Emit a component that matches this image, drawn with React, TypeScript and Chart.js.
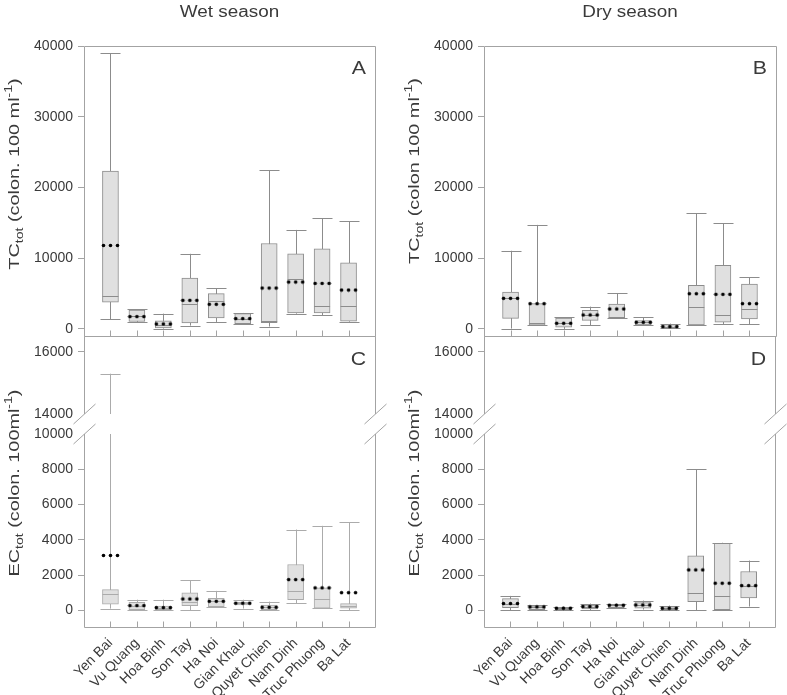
import React, { useEffect, useRef } from 'react';
import { Chart, registerables, LinearScale } from 'chart.js';

Chart.register(...registerables);

class BrokenLinearScale extends LinearScale {
  static id = 'brokenLinear';
  static defaults = LinearScale.defaults;
  getPixelForValue(value: number) {
    const brk = (this.options as any).brk;
    if (!brk) return super.getPixelForValue(value);
    const { lowMax, highMin, lowFrac, highFrac } = brk;
    const min = this.min;
    const max = this.max;
    let frac: number;
    if (value <= lowMax) frac = ((value - min) / (lowMax - min)) * lowFrac;
    else if (value >= highMin) frac = highFrac + ((value - highMin) / (max - highMin)) * (1 - highFrac);
    else frac = lowFrac + ((value - lowMax) / (highMin - lowMax)) * (highFrac - lowFrac);
    return this.bottom - frac * (this.bottom - this.top);
  }
  getValueForPixel(pixel: number) {
    const brk = (this.options as any).brk;
    if (!brk) return super.getValueForPixel(pixel);
    const { lowMax, highMin, lowFrac, highFrac } = brk;
    const frac = (this.bottom - pixel) / (this.bottom - this.top);
    if (frac <= lowFrac) return this.min + (frac / lowFrac) * (lowMax - this.min);
    if (frac >= highFrac) return highMin + ((frac - highFrac) / (1 - highFrac)) * (this.max - highMin);
    return lowMax + ((frac - lowFrac) / (highFrac - lowFrac)) * (highMin - lowMax);
  }
}
Chart.register(BrokenLinearScale);

const FONT = "'Liberation Sans', Arial, Helvetica, sans-serif";
Chart.defaults.font.family = FONT;

// ---------- data ----------
const CATEGORIES = ['Yen Bai', 'Vu Quang', 'Hoa Binh', 'Son Tay', 'Ha Noi', 'Gian Khau', 'Quyet Chien', 'Nam Dinh', 'Truc Phuong', 'Ba Lat'];
const TC_TICKS = [0, 10000, 20000, 30000, 40000];
const EC_TICKS = [0, 2000, 4000, 6000, 8000, 10000, 14000, 16000];

// A: Wet season, TC
const wetTcMin = [1400, 1000, 50, 470, 990, 750, 330, 2160, 1970, 1030];
const wetTcQ1 = [3800, 1050, 140, 850, 1550, 750, 890, 2260, 2260, 1080];
const wetTcMedian = [4700, 1800, 600, 3570, 3900, 1400, 1130, 7050, 3240, 3290];
const wetTcQ3 = [22300, 2680, 1130, 7190, 4980, 2160, 12080, 10620, 11330, 9350];
const wetTcMax = [39000, 2770, 2160, 10620, 5730, 2260, 22470, 14000, 15650, 15230];
const wetTcMean = [11800, 1740, 700, 4040, 3480, 1460, 5780, 6630, 6440, 5500];

// B: Dry season, TC
const dryTcMin = [50, 520, 0, 520, 1550, 560, 94, 560, 700, 700];
const dryTcQ1 = [1500, 520, 235, 1220, 1550, 560, 94, 560, 940, 1410];
const dryTcMedian = [4400, 890, 800, 1970, 1740, 940, 330, 3150, 2020, 2820];
const dryTcQ3 = [5220, 3570, 1550, 2630, 3530, 1180, 610, 6160, 8980, 6350];
const dryTcMax = [11050, 14710, 1650, 3150, 5080, 1650, 750, 16360, 14950, 7290];
const dryTcMean = [4320, 3570, 800, 1970, 2820, 940, 330, 4980, 4890, 3570];

// C: Wet season, EC
const wetEcMin = [95, 0, 0, 0, 210, 95, 0, 400, 115, 0];
const wetEcQ1 = [340, 0, 0, 265, 210, 300, 0, 600, 115, 115];
const wetEcMedian = [910, 265, 150, 470, 510, 400, 170, 1120, 660, 265];
const wetEcQ3 = [1170, 450, 230, 985, 680, 450, 300, 2595, 1270, 380];
const wetEcMax = [15300, 600, 600, 1690, 1100, 600, 490, 4580, 4790, 4980];
const wetEcMean = [3110, 265, 150, 640, 510, 400, 170, 1740, 1270, 1000];

// D: Dry season, EC
const dryEcMin = [0, 0, 0, 0, 115, 40, 0, 0, 40, 210];
const dryEcQ1 = [150, 40, 0, 75, 150, 115, 0, 490, 40, 700];
const dryEcMedian = [380, 190, 115, 210, 285, 300, 115, 985, 815, 1380];
const dryEcQ3 = [660, 245, 150, 300, 340, 435, 210, 3090, 3790, 2200];
const dryEcMax = [815, 285, 210, 380, 380, 550, 265, 8000, 3830, 2820];
const dryEcMean = [380, 190, 115, 210, 285, 300, 115, 2290, 1535, 1400];

// ---------- helpers ----------
const pad = (a: any[]) => [null, ...a, null];
const LABELS = ['', ...CATEGORIES, ''];

function makeDots() {
  const c = document.createElement('canvas');
  c.width = 19;
  c.height = 5;
  const g = c.getContext('2d')!;
  g.fillStyle = '#000';
  [2.5, 9.5, 16.5].forEach((x) => {
    g.beginPath();
    g.arc(x, 2.5, 1.8, 0, Math.PI * 2);
    g.fill();
  });
  return c;
}

function line(ctx: CanvasRenderingContext2D, x1: number, y1: number, x2: number, y2: number) {
  ctx.beginPath();
  ctx.moveTo(x1, y1);
  ctx.lineTo(x2, y2);
  ctx.stroke();
}

type Seg = { t: string; size: number; dy: number };

const FRAME = '#a3a3a3';
const TEXT = '#3a3a3a';

const boxPlugin = {
  id: 'boxExtras',
  beforeDatasetsDraw(chart: any, _a: any, o: any) {
    const { ctx } = chart;
    const xs = chart.scales.x;
    const ys = chart.scales.y;
    const brk = ys.options.brk;
    ctx.save();
    ctx.strokeStyle = o.lineColor;
    ctx.lineWidth = 1;
    o.min.forEach((lo: number, i: number) => {
      const hi = o.max[i];
      const px = Math.round(xs.getPixelForValue(i + 1)) + 0.5;
      const segs: number[][] = brk && lo < brk.lowMax && hi > brk.highMin ? [[lo, brk.lowMax], [brk.highMin, hi]] : [[lo, hi]];
      segs.forEach(([a, b]) => line(ctx, px, ys.getPixelForValue(a), px, ys.getPixelForValue(b)));
      const yl = Math.round(ys.getPixelForValue(lo)) + 0.5;
      const yh = Math.round(ys.getPixelForValue(hi)) + 0.5;
      line(ctx, px - 10, yl, px + 10, yl);
      line(ctx, px - 10, yh, px + 10, yh);
    });
    ctx.restore();
  },
  afterDatasetDraw(chart: any, args: any, o: any) {
    if (args.index !== 0) return;
    const { ctx } = chart;
    const xs = chart.scales.x;
    const ys = chart.scales.y;
    ctx.save();
    ctx.strokeStyle = o.lineColor;
    ctx.lineWidth = 1;
    o.median.forEach((m: number, i: number) => {
      const px = xs.getPixelForValue(i + 1);
      const py = Math.round(ys.getPixelForValue(m)) + 0.5;
      line(ctx, px - 8, py, px + 8, py);
    });
    ctx.restore();
  },
  afterDraw(chart: any, _a: any, o: any) {
    const { ctx, chartArea } = chart;
    const { left, right, top, bottom } = chartArea;
    const ys = chart.scales.y;
    const xs = chart.scales.x;
    const brk = ys.options.brk;
    ctx.save();
    ctx.strokeStyle = FRAME;
    ctx.lineWidth = 1;
    const L = Math.round(left) + 0.5;
    const R = Math.round(right) + 0.5;
    const T = Math.round(top) + 0.5;
    const B = Math.round(bottom) + 0.5;
    line(ctx, L, T, R, T);
    line(ctx, L, B, R, B);
    if (brk) {
      const pHigh = ys.getPixelForValue(brk.highMin);
      const pLow = ys.getPixelForValue(brk.lowMax);
      [L, R].forEach((x) => {
        line(ctx, x, T, x, pHigh);
        line(ctx, x, pLow, x, B);
        [pHigh, pLow].forEach((p) => line(ctx, x - 11, p + 10, x + 11, p - 10));
      });
    } else {
      line(ctx, L, T, L, B);
      line(ctx, R, T, R, B);
    }
    // inward x tick marks
    CATEGORIES.forEach((_c, i) => {
      const px = Math.round(xs.getPixelForValue(i + 1)) + 0.5;
      line(ctx, px, B, px, B - 6);
    });
    ctx.fillStyle = TEXT;
    // title
    if (o.title) {
      ctx.save();
      ctx.font = `16px ${FONT}`;
      ctx.translate((left + right) / 2, 17);
      ctx.scale(1.18, 1);
      ctx.textAlign = 'center';
      ctx.textBaseline = 'alphabetic';
      ctx.fillText(o.title, 0, 0);
      ctx.restore();
    }
    // panel letter
    ctx.save();
    ctx.font = `19px ${FONT}`;
    ctx.translate(right - 9, top + o.letterDy);
    ctx.scale(1.12, 1);
    ctx.textAlign = 'right';
    ctx.textBaseline = 'alphabetic';
    ctx.fillText(o.letter, 0, 0);
    ctx.restore();
    // y label with sub/superscripts
    const segs: Seg[] = o.yLabel;
    ctx.save();
    ctx.translate(left - 65, o.yLabelCenter);
    ctx.rotate(-Math.PI / 2);
    ctx.scale(1.28, 1);
    let total = 0;
    segs.forEach((s) => {
      ctx.font = `${s.size}px ${FONT}`;
      total += ctx.measureText(s.t).width;
    });
    let cx = -total / 2;
    ctx.textAlign = 'left';
    ctx.textBaseline = 'alphabetic';
    segs.forEach((s) => {
      ctx.font = `${s.size}px ${FONT}`;
      ctx.fillText(s.t, cx, s.dy);
      cx += ctx.measureText(s.t).width;
    });
    ctx.restore();
    ctx.restore();
  },
};

type PanelCfg = {
  min: number[]; q1: number[]; median: number[]; q3: number[]; max: number[]; mean: number[];
  yMin: number; yMax: number; yTicks: number[]; brk?: any;
  padLeft: number; padRight: number; padTop: number; padBottom: number; xHeight: number;
  showLabels: boolean; title?: string; letter: string; letterDy: number;
  yLabel: Seg[]; yLabelCenter: number; lineColor: string;
};

const sub = (t: string): Seg => ({ t, size: 11, dy: 4 });
const sup = (t: string): Seg => ({ t, size: 11, dy: -7 });
const main = (t: string): Seg => ({ t, size: 15.5, dy: 0 });

function buildConfig(p: PanelCfg, dots: HTMLCanvasElement): any {
  return {
    type: 'bar',
    data: {
      labels: LABELS,
      datasets: [
        {
          type: 'bar',
          data: pad(p.q1.map((v, i) => [v, p.q3[i]])),
          backgroundColor: '#e0e0e0',
          borderColor: p.lineColor,
          borderWidth: 1,
          borderSkipped: false,
          barThickness: 16,
          grouped: false,
          order: 2,
        },
        {
          type: 'line',
          data: pad(p.mean),
          showLine: false,
          pointStyle: dots,
          pointRadius: 5,
          order: 1,
        },
      ],
    },
    options: {
      responsive: false,
      animation: false,
      devicePixelRatio: 1,
      events: [],
      layout: { padding: { left: p.padLeft, right: p.padRight, top: p.padTop, bottom: p.padBottom } },
      plugins: {
        legend: { display: false },
        tooltip: { enabled: false },
        boxExtras: {
          min: p.min, max: p.max, median: p.median, lineColor: p.lineColor,
          title: p.title, letter: p.letter, letterDy: p.letterDy,
          yLabel: p.yLabel, yLabelCenter: p.yLabelCenter,
        },
      },
      scales: {
        x: {
          type: 'category',
          offset: false,
          grid: { display: false },
          border: { display: false },
          ticks: {
            display: p.showLabels,
            autoSkip: false,
            minRotation: 45,
            maxRotation: 45,
            padding: 0,
            color: TEXT,
            font: { size: 14, family: FONT },
          },
          afterFit: (s: any) => { s.height = p.xHeight; },
        },
        y: {
          type: 'brokenLinear',
          brk: p.brk,
          min: p.yMin,
          max: p.yMax,
          bounds: 'data',
          border: { display: false },
          grid: {
            drawOnChartArea: false,
            drawTicks: true,
            tickLength: 6,
            color: (c: any) => (p.brk && c.tick && (c.tick.value === p.brk.lowMax || c.tick.value === p.brk.highMin) ? 'rgba(0,0,0,0)' : FRAME),
          },
          ticks: {
            padding: 5,
            color: TEXT,
            font: { size: 14, family: FONT },
            callback: (v: any) => String(v),
          },
          afterBuildTicks: (s: any) => { s.ticks = p.yTicks.map((v) => ({ value: v })); },
          afterFit: (s: any) => { s.width = 84; },
        },
      },
    },
    plugins: [boxPlugin],
  };
}

const EC_BREAK = { lowMax: 10000, highMin: 14000, lowFrac: 193 / 291, highFrac: 213 / 291 };

const PANELS: PanelCfg[] = [
  {
    min: wetTcMin, q1: wetTcQ1, median: wetTcMedian, q3: wetTcQ3, max: wetTcMax, mean: wetTcMean,
    yMin: -1000, yMax: 40000, yTicks: TC_TICKS,
    padLeft: 0, padRight: 412, padTop: 46, padBottom: 359, xHeight: 0,
    showLabels: false, title: 'Wet season', letter: 'A', letterDy: 28,
    yLabel: [main('TC'), sub('tot'), main(' (colon. 100 ml'), sup('-1'), main(')')], yLabelCenter: 174,
    lineColor: '#8c8c8c',
  },
  {
    min: dryTcMin, q1: dryTcQ1, median: dryTcMedian, q3: dryTcQ3, max: dryTcMax, mean: dryTcMean,
    yMin: -1000, yMax: 40000, yTicks: TC_TICKS,
    padLeft: 400, padRight: 11, padTop: 46, padBottom: 359, xHeight: 0,
    showLabels: false, title: 'Dry season', letter: 'B', letterDy: 28,
    yLabel: [main('TC'), sub('tot'), main(' (colon 100 ml'), sup('-1'), main(')')], yLabelCenter: 171,
    lineColor: '#8c8c8c',
  },
  {
    min: wetEcMin, q1: wetEcQ1, median: wetEcMedian, q3: wetEcQ3, max: wetEcMax, mean: wetEcMean,
    yMin: -950, yMax: 16516, yTicks: EC_TICKS, brk: EC_BREAK,
    padLeft: 0, padRight: 412, padTop: 336, padBottom: 0, xHeight: 68,
    showLabels: true, letter: 'C', letterDy: 29,
    yLabel: [main('EC'), sub('tot'), main(' (colon. 100ml'), sup('-1'), main(')')], yLabelCenter: 483,
    lineColor: '#ababab',
  },
  {
    min: dryEcMin, q1: dryEcQ1, median: dryEcMedian, q3: dryEcQ3, max: dryEcMax, mean: dryEcMean,
    yMin: -950, yMax: 16516, yTicks: EC_TICKS, brk: EC_BREAK,
    padLeft: 400, padRight: 11, padTop: 336, padBottom: 0, xHeight: 68,
    showLabels: true, letter: 'D', letterDy: 29,
    yLabel: [main('EC'), sub('tot'), main(' (colon. 100ml'), sup('-1'), main(')')], yLabelCenter: 483,
    lineColor: '#8c8c8c',
  },
];

export default function App() {
  const refs = [useRef<HTMLCanvasElement>(null), useRef<HTMLCanvasElement>(null), useRef<HTMLCanvasElement>(null), useRef<HTMLCanvasElement>(null)];
  useEffect(() => {
    const dots = makeDots();
    const charts = PANELS.map((p, i) => new Chart(refs[i].current!, buildConfig(p, dots)));
    return () => charts.forEach((c) => c.destroy());
  }, []);
  return (
    <div style={{ position: 'absolute', left: 0, top: 0, width: 787, height: 695, background: '#fff' }}>
      {refs.map((r, i) => (
        <canvas key={i} ref={r} width={787} height={695} style={{ position: 'absolute', left: 0, top: 0, width: 787, height: 695 }} />
      ))}
    </div>
  );
}
